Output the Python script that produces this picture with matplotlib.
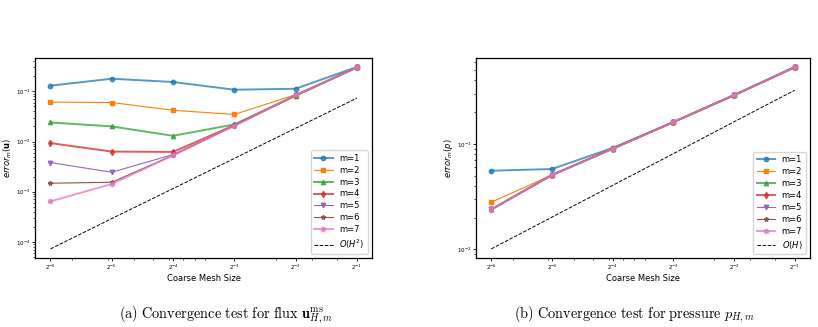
import matplotlib
matplotlib.use("Agg")
import matplotlib.pyplot as plt
import numpy as np

# coarse mesh sizes 2^-6 ... 2^-1
H = [2**-6, 2**-5, 2**-4, 2**-3, 2**-2, 2**-1]
H_labels = [r'$2^{-6}$', r'$2^{-5}$', r'$2^{-4}$', r'$2^{-3}$', r'$2^{-2}$', r'$2^{-1}$']

# flux errors, one list per m
err_u_m1 = [0.130, 0.179, 0.154, 0.108, 0.113, 0.307]
err_u_m2 = [0.061, 0.060, 0.042, 0.0347, 0.086, 0.300]
err_u_m3 = [0.024, 0.020, 0.013, 0.0219, 0.082, 0.300]
err_u_m4 = [0.0093, 0.0063, 0.0062, 0.0212, 0.083, 0.302]
err_u_m5 = [0.0038, 0.00244, 0.0055, 0.0206, 0.083, 0.302]
err_u_m6 = [0.00147, 0.00154, 0.0053, 0.0206, 0.083, 0.302]
err_u_m7 = [0.00064, 0.00142, 0.0053, 0.0206, 0.084, 0.302]
ref_u = [7.2e-5, 2.9e-4, 1.15e-3, 4.6e-3, 1.84e-2, 7.36e-2]

# pressure errors, one list per m
err_p_m1 = [0.0557, 0.0578, 0.0916, 0.161, 0.290, 0.537]
err_p_m2 = [0.0280, 0.0507, 0.0910, 0.161, 0.290, 0.537]
err_p_m3 = [0.0239, 0.0507, 0.0900, 0.161, 0.290, 0.533]
err_p_m4 = [0.0239, 0.0507, 0.0900, 0.161, 0.290, 0.533]
err_p_m5 = [0.0239, 0.0507, 0.0900, 0.161, 0.290, 0.533]
err_p_m6 = [0.0239, 0.0507, 0.0900, 0.161, 0.290, 0.533]
err_p_m7 = [0.0239, 0.0507, 0.0900, 0.161, 0.290, 0.533]
ref_p = [0.0101, 0.0202, 0.0404, 0.0808, 0.162, 0.323]

markers = ['o', 's', '^', 'd', 'v', '*', 'h']
colors = ['#1f77b4', '#ff7f0e', '#2ca02c', '#d62728', '#9467bd', '#8c564b', '#e377c2']
# some lines look thicker / lighter in the original
widths = [1.4, 0.8, 1.4, 1.4, 0.8, 0.8, 1.4]
alphas = [0.75, 1.0, 0.75, 0.75, 1.0, 1.0, 0.75]

fig = plt.figure(figsize=(8.18, 3.27), dpi=100)
ax1 = fig.add_axes([0.043, 0.211, 0.412, 0.612])
ax2 = fig.add_axes([0.582, 0.211, 0.408, 0.612])


def draw(ax, series, ref, ref_label, ylabel):
    for i, y in enumerate(series):
        ax.plot(H, y, marker=markers[i], color=colors[i], lw=widths[i],
                alpha=alphas[i], ms=3.2, label='m=%d' % (i + 1))
    ax.plot(H, ref, 'k--', lw=0.7, label=ref_label)
    ax.set_xscale('log')
    ax.set_yscale('log')
    ax.set_xticks(H)
    ax.set_xticklabels(H_labels)
    ax.tick_params(axis='both', which='major', labelsize=4, length=2, width=0.6, pad=1.5)
    ax.tick_params(axis='both', which='minor', length=1.2, width=0.5)
    ax.set_xlabel('Coarse Mesh Size', fontsize=6, labelpad=1)
    ax.set_ylabel(ylabel, fontsize=6, labelpad=1)
    for s in ax.spines.values():
        s.set_linewidth(0.9)
    ax.legend(loc='lower right', fontsize=6, handlelength=2.2, labelspacing=0.35,
              borderpad=0.4, framealpha=0.8)


draw(ax1, [err_u_m1, err_u_m2, err_u_m3, err_u_m4, err_u_m5, err_u_m6, err_u_m7],
     ref_u, r'$O(H^2)$', r'$error_m(\mathbf{u})$')
draw(ax2, [err_p_m1, err_p_m2, err_p_m3, err_p_m4, err_p_m5, err_p_m6, err_p_m7],
     ref_p, r'$O(H)$', r'$error_m(p)$')

fig.text(0.276, 0.038,
         r'$\mathrm{(a)\ Convergence\ test\ for\ flux}\ \mathbf{u}^{\mathrm{ms}}_{H,m}$',
         fontsize=10.3, ha='center', va='center', math_fontfamily='cm')
fig.text(0.776, 0.038,
         r'$\mathrm{(b)\ Convergence\ test\ for\ pressure}\ p_{H,m}$',
         fontsize=10.3, ha='center', va='center', math_fontfamily='cm')

fig.savefig('out.png', dpi=100)
